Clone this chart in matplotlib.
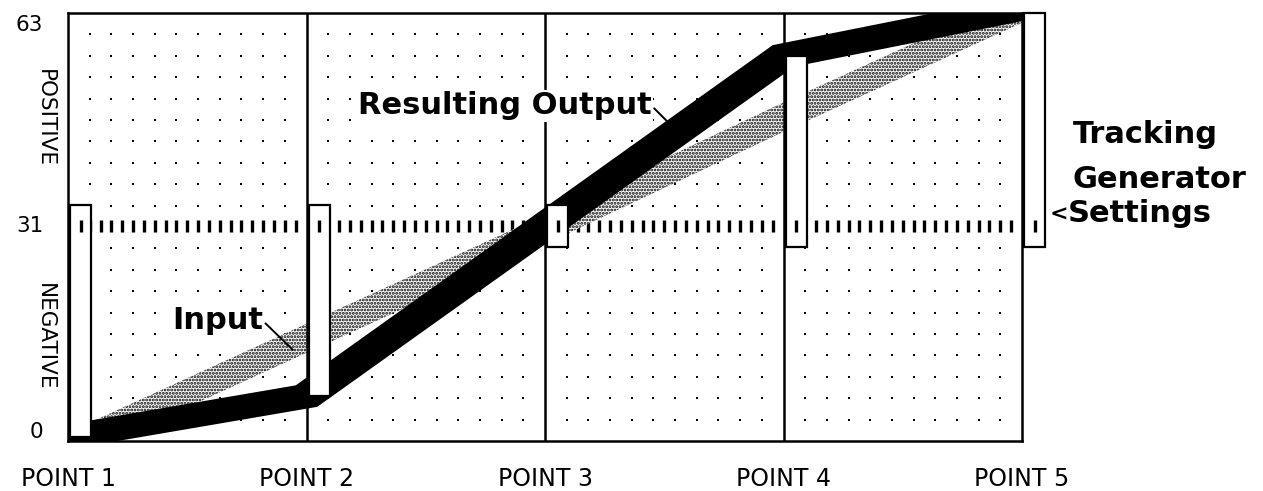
import numpy as np
import matplotlib.pyplot as plt
from matplotlib.patches import Polygon, Rectangle
from matplotlib.transforms import blended_transform_factory

# Tracking generator: five point settings on a 0..63 scale
points = ["POINT 1", "POINT 2", "POINT 3", "POINT 4", "POINT 5"]
settings = [0, 6, 31, 56, 63]              # slider settings = resulting output
input_level = [-1.5, 14.5, 30.5, 47, 63]   # input ramp
level_labels = ["0", "31", "63"]
mid_level = 31

x_pts = np.arange(len(points))
ylo, yhi = -0.6, 62.3

plt.rcParams['hatch.linewidth'] = 1.4

W, H = 1263, 491
fig = plt.figure(figsize=(W / 100, H / 100), dpi=100)
ax = fig.add_axes([68 / W, 50 / H, 954 / W, 428 / H])
ax.set_xlim(0, len(points) - 1)
ax.set_ylim(ylo, yhi)
ax.set_xticks([])
ax.set_yticks([])
for sp in ax.spines.values():
    sp.set_linewidth(1.8)
    sp.set_zorder(6)

# data units per pixel
ppx = 954 / (len(points) - 1)
ppy = 428 / (yhi - ylo)

# dotted background grid, middle row replaced by short dashes
cols = np.concatenate([i + np.arange(1, 11) / 11 for i in range(len(points) - 1)])
rows = np.delete(np.linspace(ylo, yhi, 21)[1:-1], 9)
gx, gy = np.meshgrid(cols, rows)
ax.plot(gx.ravel(), gy.ravel(), 's', ms=2.1, mew=0, color='black', zorder=1)
dash_x = np.concatenate([i + np.arange(1, 22) / 22 for i in range(len(points) - 1)])
ax.plot(dash_x, np.full_like(dash_x, mid_level), '|', ms=8.5, mew=2.4,
        color='black', zorder=1)


def pen_stroke(ax, xs, ys, hx, hy, **kw):
    # square pen dragged along the polyline (like the old QuickDraw pen)
    for x0, y0, x1, y1 in zip(xs[:-1], ys[:-1], xs[1:], ys[1:]):
        verts = [(x0 - hx, y0 - hy), (x0 + hx, y0 - hy), (x1 + hx, y1 - hy),
                 (x1 + hx, y1 + hy), (x1 - hx, y1 + hy), (x0 - hx, y0 + hy)]
        ax.add_patch(Polygon(verts, closed=True, **kw))


# input: stippled band
pen_stroke(ax, x_pts, input_level, 10 / ppx, 10 / ppy,
           facecolor='white', edgecolor='black', lw=0, hatch='.....', zorder=2)

for xp in x_pts[1:-1]:
    ax.axvline(xp, color='black', lw=1.8, zorder=2.5)

# resulting output: thick black band
ho_x, ho_y = 10.75 / ppx, 10.75 / ppy
pen_stroke(ax, x_pts, settings, ho_x, ho_y,
           facecolor='black', edgecolor='none', zorder=3)

# sliders
pad = 3.1
sw = 21 / ppx
for xp, s in zip(x_pts, settings):
    lo = max(min(s, mid_level - pad), ylo)
    hi = min(max(s, mid_level + pad), yhi)
    ax.add_patch(Rectangle((xp + 2 / ppx, lo), sw, hi - lo, facecolor='white',
                           edgecolor='black', lw=1.6, zorder=4, clip_on=False))
    ax.plot(xp + 2 / ppx + sw / 2, mid_level, '|', ms=8.5, mew=2.4,
            color='black', zorder=5, clip_on=False)

# level labels on the left
bt = blended_transform_factory(ax.transAxes, ax.transData)
ax.text(-0.026, 0.021, level_labels[0], transform=ax.transAxes,
        ha='right', va='center', fontsize=15.5)
ax.text(-0.026, mid_level, level_labels[1], transform=bt,
        ha='right', va='center', fontsize=15.5)
ax.text(-0.026, 0.972, level_labels[2], transform=ax.transAxes,
        ha='right', va='center', fontsize=15.5)
ax.text(-0.024, 0.755, "POSITIVE", transform=ax.transAxes, rotation=-90,
        ha='center', va='center', fontsize=15.5)
ax.text(-0.024, 0.243, "NEGATIVE", transform=ax.transAxes, rotation=-90,
        ha='center', va='center', fontsize=15.5)

# point labels under the chart
bx = blended_transform_factory(ax.transData, ax.transAxes)
for xp, name in zip(x_pts, points):
    ax.text(xp, -0.089, name, transform=bx, ha='center', va='center', fontsize=17)

# callouts
xa = 2.51
ya = np.interp(xa + ho_x, x_pts, settings) + ho_y
ax.annotate("Resulting Output", xy=(xa, ya), xytext=(-15, 15),
            textcoords='offset pixels', ha='right', va='center',
            fontsize=22, fontweight='bold', zorder=7,
            bbox=dict(facecolor='white', edgecolor='none', pad=1),
            arrowprops=dict(arrowstyle='-', lw=1.4, color='black',
                            shrinkA=1, shrinkB=0, relpos=(1, 0.5)))
xi = 0.943
yi = np.interp(xi, x_pts, input_level) - 0.8
ax.annotate("Input", xy=(xi, yi), xytext=(-30, 29),
            textcoords='offset pixels', ha='right', va='center',
            fontsize=22, fontweight='bold', zorder=7,
            bbox=dict(facecolor='white', edgecolor='none', pad=1),
            arrowprops=dict(arrowstyle='-', lw=1.4, color='black',
                            shrinkA=1, shrinkB=0, relpos=(1, 0.5)))

fig.text(1073 / W, 1 - 143 / H, "Tracking", ha='left', va='baseline',
         fontsize=22, fontweight='bold')
fig.text(1073 / W, 1 - 188 / H, "Generator", ha='left', va='baseline',
         fontsize=22, fontweight='bold')
fig.text(1050 / W, 1 - 221 / H, "<", ha='left', va='baseline',
         fontsize=16, fontweight='bold')
fig.text(1068 / W, 1 - 222 / H, "Settings", ha='left', va='baseline',
         fontsize=22, fontweight='bold')

fig.savefig("out.png", dpi=100, facecolor='white')
